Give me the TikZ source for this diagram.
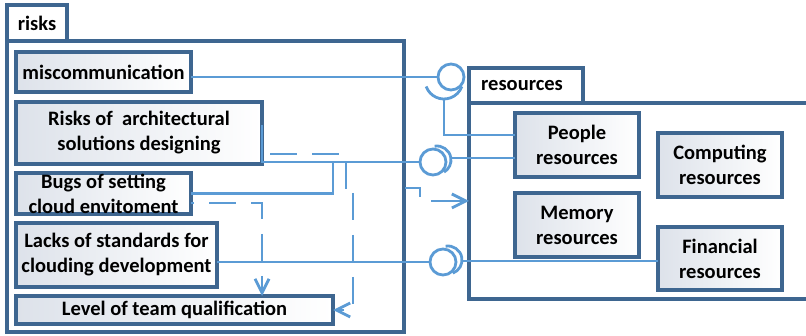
\documentclass[tikz,border=0pt]{standalone}
\usepackage{fontspec}
\setmainfont{Carlito}
\usetikzlibrary{arrows.meta}
\definecolor{frameblue}{HTML}{3E6690}
\definecolor{linkblue}{HTML}{5B9BD5}
\definecolor{boxshade}{HTML}{DDE2EA}
\begin{document}
\begin{tikzpicture}[x=1pt,y=-1pt,
  txt/.style={font=\fontsize{20.5}{25}\selectfont\bfseries},
  box/.style={txt, draw=frameblue, line width=3.3pt, left color=boxshade, right color=white,
    inner sep=0pt, outer sep=0pt, align=center},
  frame/.style={draw=frameblue, line width=3.3pt, inner sep=0pt, outer sep=0pt},
  tab/.style={txt, draw=frameblue, fill=white, line width=3.3pt, inner sep=0pt, outer sep=0pt},
  ball/.style={circle, draw=linkblue, fill=white, line width=2.8pt, minimum size=26pt, inner sep=0pt, outer sep=0pt},
  link/.style={draw=linkblue, line width=2.8pt},
  dep/.style={link, dash pattern=on 27pt off 15pt},
  tip/.style={-{Straight Barb[length=14pt,width=14pt]}}
]
\useasboundingbox (0,0) rectangle (806,336);

% packages
\node[frame, minimum width=397pt, minimum height=291pt] (riskframe) at (205.5,186.5) {};
\node[tab, minimum width=60pt, minimum height=36pt] (risktab) at (37,23) {risks};
\node[frame, minimum width=345pt, minimum height=196pt] (resframe) at (641.5,201) {};
\node[tab, minimum width=114pt, minimum height=35pt] (restab) at (526,85.5) {\hspace*{-8pt}resources};

% risk boxes
\node[box, minimum width=175pt, minimum height=40pt] (misc) at (103.5,72) {miscommunication};
\node[box, minimum width=246pt, minimum height=62pt] (arch) at (139,133) {Risks of\ \ architectural\\solutions designing};
\node[box, minimum width=175pt, minimum height=41pt] (bugs) at (103.5,193.5) {Bugs of setting\\cloud envitoment};
\node[box, minimum width=201pt, minimum height=64pt] (lacks) at (116.5,255) {Lacks of standards for\\clouding development};
\node[box, minimum width=317pt, minimum height=28pt] (level) at (174.5,310) {Level of team qualification};

% resource boxes
\node[box, minimum width=124pt, minimum height=64pt] (people) at (577,145) {People\\resources};
\node[box, minimum width=124pt, minimum height=64pt] (comp) at (720,165) {Computing\\resources};
\node[box, minimum width=124pt, minimum height=64pt] (mem) at (577,225) {Memory\\resources};
\node[box, minimum width=124pt, minimum height=63pt] (fin) at (720,258.5) {Financial\\resources};

% ball and socket 1
\coordinate (sock1) at (444,80);
\coordinate (s1b) at (444,99);
\draw[link] ([shift={(200:19pt)}]sock1) arc[start angle=200, end angle=340, radius=19pt];
\draw[link] (s1b) |- ([yshift=10pt]people.west);
\node[ball] (ball1) at (451,77) {};
\draw[link] (misc.east |- ball1.west) -- (ball1.west);

% ball and socket 2
\coordinate (sock2) at (437,160);
\coordinate (s2) at (451,158);
\draw[link] ([shift={(100:14pt)}]sock2) arc[start angle=100, end angle=-60, radius=14pt];
\node[ball] (ball2) at (433,162) {};
\draw[link] (s2) -- (s2 -| people.west);
\coordinate (j1) at (333,162);
\draw[link] ([yshift=8pt]arch.east) |- (ball2.west);
\draw[link] (bugs.east) -| (j1);

% ball and socket 3
\coordinate (sock3) at (448,260);
\coordinate (s3) at (462,261);
\draw[link] ([shift={(100:14pt)}]sock3) arc[start angle=100, end angle=-70, radius=14pt];
\node[ball] (ball3) at (443,262) {};
\draw[link] (lacks.east |- ball3.west) -- (ball3.west);
\draw[link] (s3) -- (s3 -| fin.west);

% dependencies
\draw[dep, dash pattern=on 27pt off 15pt on 27pt off 15pt on 27pt off 15pt on 27pt off 58pt on 24pt off 15pt on 60pt, dash phase=34pt, tip]
  ([yshift=-21pt]arch.east) -- (346,154) -- (346,188) -- (420,188) |- (resframe.west);
\draw[dep, dash phase=24pt, tip] ([yshift=-9.5pt]bugs.east) -| ([xshift=87.5pt]level.north);
\coordinate (d3) at (353,178);
\draw[dep, dash phase=27pt, tip] (d3) |- (level.east);
\end{tikzpicture}
\end{document}
